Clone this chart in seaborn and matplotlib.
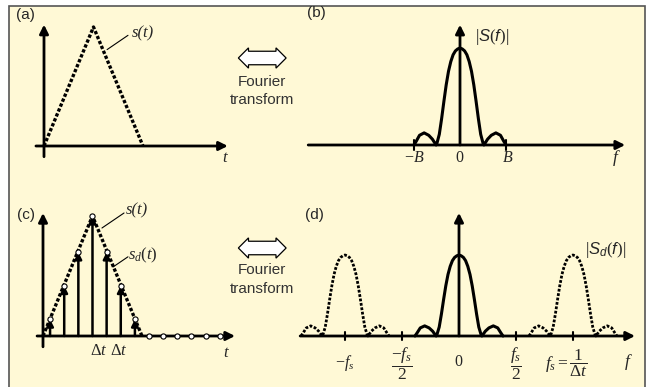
import matplotlib.pyplot as plt
import numpy as np
import seaborn as sns
from matplotlib.patches import Rectangle

# 时间信号：三角脉冲（t 以 Δt 为单位，幅度归一化）
tri_t = [0.0, 3.5, 7.0]
tri_s = [0.0, 1.0, 0.0]

# 采样后的冲激（高度落在三角形上）
samp_t = [0.5, 1.5, 2.5, 3.5, 4.5, 5.5, 6.5]
samp_s = [0.14, 0.42, 0.70, 1.0, 0.70, 0.42, 0.14]
zero_t = [7.5, 8.5, 9.5, 10.5, 11.5, 12.5]
zero_s = [0, 0, 0, 0, 0, 0]

# 频谱半边形状（f 以 B 为单位，f >= 0）
spec_f_half = [0, 0.05, 0.1, 0.15, 0.2, 0.25, 0.3, 0.35, 0.4, 0.45, 0.5, 0.52,
               0.6, 0.68, 0.78, 0.88, 0.95, 1.0]
spec_a_half = [1.0, 0.99, 0.97, 0.93, 0.86, 0.76, 0.62, 0.45, 0.27, 0.11, 0.02, 0.0,
               0.06, 0.1, 0.125, 0.1, 0.04, 0.0]

# 采样频率（以 B 为单位）及频谱复制中心
fs = 2.59
replica_centers = [-fs, 0.0, fs]
b_ticks = [-1.0, 1.0]
d_ticks = [-fs, -fs / 2, fs / 2, fs]

# 对称展开
spec_f = np.concatenate([-np.array(spec_f_half[::-1]), np.array(spec_f_half[1:])])
spec_a = np.concatenate([np.array(spec_a_half[::-1]), np.array(spec_a_half[1:])])

sns.set_style("white")
plt.rcParams["font.family"] = ["Liberation Sans", "DejaVu Sans"]
plt.rcParams["mathtext.fontset"] = "custom"
plt.rcParams["mathtext.rm"] = "Liberation Serif"
plt.rcParams["mathtext.it"] = "Liberation Serif:italic"
plt.rcParams["mathtext.sf"] = "Liberation Sans:italic"

W, H = 647, 387
fig = plt.figure(figsize=(6.47, 3.87), dpi=100)
fig.patch.set_facecolor("white")

# 背景框
fig.patches.append(Rectangle((9 / W, -0.02), (645 - 9) / W, 1.02 - 6 / H,
                             transform=fig.transFigure, facecolor="#FFF9D6",
                             edgecolor="#555555", linewidth=1.2, zorder=-5))

SERIF = dict(family="Liberation Serif", style="italic")


def panel(origin, scale, xlim, ylim):
    ox, oy = origin
    sx, sy = scale
    left = ox + xlim[0] * sx
    right = ox + xlim[1] * sx
    top = oy - ylim[1] * sy
    bottom = oy - ylim[0] * sy
    ax = fig.add_axes([left / W, 1 - bottom / H, (right - left) / W, (bottom - top) / H])
    ax.set_xlim(xlim)
    ax.set_ylim(ylim)
    ax.axis("off")
    ax.patch.set_alpha(0)
    ax.set_zorder(2)
    return ax


def arrow(ax, x0, y0, x1, y1, lw=2.0, ms=13):
    ax.annotate("", xy=(x1, y1), xytext=(x0, y0),
                arrowprops=dict(arrowstyle="-|>", color="black", lw=lw,
                                mutation_scale=ms, shrinkA=0, shrinkB=0),
                annotation_clip=False)


DOT = (0, (1, 0.6))

# ---------- (a) ----------
ax_a = panel((44, 146), (14.14, 119), (-2, 14), (-0.35, 1.15))
arrow(ax_a, -0.57, 0, 13.0, 0)
arrow(ax_a, 0, -0.09, 0, 1.02)
sns.lineplot(x=tri_t, y=tri_s, ax=ax_a, color="black", lw=2.4, linestyle=DOT)
ax_a.plot([5.94, 4.46], [0.93, 0.81], color="black", lw=0.8)
ax_a.text(6.22, 0.95, "s(t)", fontsize=12, va="center", ha="left", **SERIF)
ax_a.text(12.8, -0.1, "t", fontsize=12, va="center", ha="center", **SERIF)
ax_a.text(-1.98, 1.1, "(a)", fontsize=11, va="center", ha="left")

# ---------- (b) ----------
ax_b = panel((460, 145), (46, 97), (-3.6, 4.0), (-0.4, 1.45))
arrow(ax_b, -3.3, 0, 3.59, 0)
arrow(ax_b, 0, 0, 0, 1.24)
sns.lineplot(x=spec_f, y=spec_a, ax=ax_b, color="black", lw=2.2, sort=False, estimator=None)
for tk in b_ticks:
    ax_b.plot([tk, tk], [-0.05, 0.05], color="black", lw=1.5)
ax_b.text(-1, -0.13, "$-B$", fontsize=11.5, ha="center", va="center")
ax_b.text(0, -0.13, "$0$", fontsize=11.5, ha="center", va="center")
ax_b.text(1.04, -0.13, "$B$", fontsize=11.5, ha="center", va="center")
ax_b.text(3.41, -0.13, "$f$", fontsize=12.5, ha="center", va="center")
ax_b.text(0.33, 1.11, r"$|\mathsf{S}(\mathsf{f})|$", fontsize=12, ha="left", va="center")
ax_b.text(-3.33, 1.36, "(b)", fontsize=11, ha="left", va="center")

# ---------- (c) ----------
ax_c = panel((43, 336), (14.14, 120), (-2, 14), (-0.4, 1.2))
arrow(ax_c, -0.42, 0, 13.58, 0)
arrow(ax_c, 0, -0.09, 0, 1.025)
for t, s in zip(samp_t, samp_s):
    arrow(ax_c, t, 0, t, s, lw=1.8, ms=10)
sns.lineplot(x=tri_t, y=tri_s, ax=ax_c, color="black", lw=2.4, linestyle=DOT)
sns.scatterplot(x=samp_t + zero_t, y=samp_s + zero_s, ax=ax_c, s=14,
                facecolor="white", edgecolor="black", linewidth=0.8, zorder=5)
ax_c.plot([5.73, 4.17], [1.025, 0.9], color="black", lw=0.8)
ax_c.plot([6.01, 4.95], [0.66, 0.575], color="black", lw=0.8)
ax_c.text(5.87, 1.05, "s(t)", fontsize=12, va="center", ha="left", **SERIF)
ax_c.text(6.0, 0.67, r"$s_d(t)$", fontsize=12, va="center", ha="left")
ax_c.text(3.96, -0.12, r"$\Delta t$", fontsize=12, ha="center", va="center")
ax_c.text(5.37, -0.12, r"$\Delta t$", fontsize=12, ha="center", va="center")
ax_c.text(12.9, -0.14, "t", fontsize=12, va="center", ha="center", **SERIF)
ax_c.text(-1.84, 1.01, "(c)", fontsize=11, va="center", ha="left")

# ---------- (d) ----------
ax_d = panel((459, 336), (44, 81), (-3.9, 4.3), (-0.6, 1.62))
arrow(ax_d, -3.61, 0, 4.0, 0)
arrow(ax_d, 0, 0, 0, 1.52)
for c in replica_centers:
    sns.lineplot(x=spec_f + c, y=spec_a, ax=ax_d, color="black",
                 lw=2.2 if c == 0 else 2.0, linestyle="-" if c == 0 else DOT,
                 sort=False, estimator=None)
for tk in d_ticks:
    ax_d.plot([tk, tk], [-0.05, 0.05], color="black", lw=1.5)
ax_d.text(-fs, -0.33, "$-f_s$", fontsize=11.5, ha="center", va="center")
ax_d.text(-fs / 2, -0.34, r"$\dfrac{-f_s}{2}$", fontsize=12.5, ha="center", va="center")
ax_d.text(0, -0.32, "$0$", fontsize=11.5, ha="center", va="center")
ax_d.text(fs / 2, -0.34, r"$\dfrac{f_s}{2}$", fontsize=12.5, ha="center", va="center")
ax_d.text(1.95, -0.34, r"$f_s = \dfrac{1}{\Delta t}$", fontsize=12.5, ha="left", va="center")
ax_d.text(3.84, -0.32, "$f$", fontsize=12.5, ha="center", va="center")
ax_d.text(2.86, 1.06, r"$|\mathsf{S}_{\mathsf{d}}(\mathsf{f})|$", fontsize=12, ha="left", va="center")
ax_d.text(-3.5, 1.49, "(d)", fontsize=11, ha="left", va="center")

# ---------- 傅里叶变换箭头 ----------
for y_arrow, y1, y2 in [(58, 82, 100), (248, 270, 289)]:
    fig.text(262 / W, 1 - y_arrow / H, " " * 13, fontsize=6.5, ha="center", va="center",
             bbox=dict(boxstyle="darrow,pad=0.25", fc="white", ec="black", lw=0.9))
    fig.text(262 / W, 1 - y1 / H, "Fourier", fontsize=11, ha="center", va="center", color="#333333")
    fig.text(262 / W, 1 - y2 / H, "transform", fontsize=11, ha="center", va="center", color="#333333")

fig.savefig("out.png", dpi=100)
